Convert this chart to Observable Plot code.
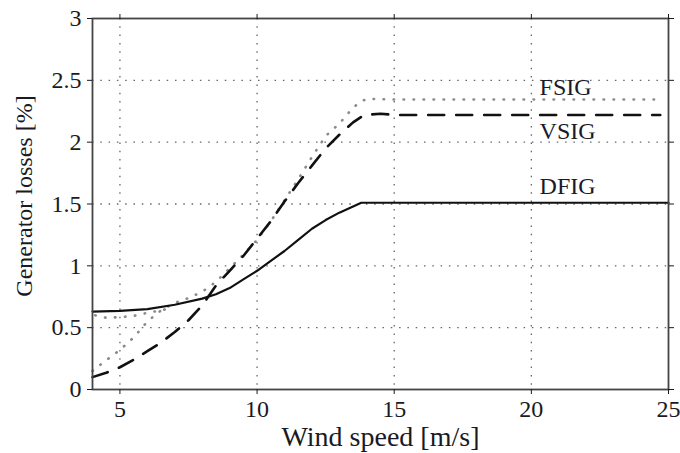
<!DOCTYPE html>
<html>
<head>
<meta charset="utf-8">
<script src="https://cdn.jsdelivr.net/npm/d3@7"></script>
<script src="https://cdn.jsdelivr.net/npm/@observablehq/plot@0.6"></script>
<style>
  html, body { margin: 0; padding: 0; background: #fff; }
</style>
</head>
<body>
<div id="chart"></div>
<script>
// ---- data ----
const dfigWind = [4, 5, 6, 7, 8, 8.5, 9, 9.5, 10, 10.5, 11, 11.5, 12, 12.5, 13, 13.5, 13.8, 14, 15, 20, 25];
const dfigLoss = [0.63, 0.635, 0.65, 0.685, 0.735, 0.77, 0.82, 0.89, 0.96, 1.04, 1.12, 1.21, 1.30, 1.37, 1.43, 1.48, 1.51, 1.51, 1.51, 1.51, 1.51];

const vsigWind = [4, 4.5, 5, 5.5, 6, 6.5, 7, 7.5, 8, 8.5, 9, 9.5, 10, 10.5, 11, 11.5, 12, 12.5, 13, 13.5, 13.9, 14.5, 15, 20, 24.7];
const vsigLoss = [0.10, 0.135, 0.18, 0.24, 0.31, 0.38, 0.465, 0.56, 0.68, 0.84, 0.96, 1.08, 1.22, 1.36, 1.52, 1.67, 1.81, 1.95, 2.06, 2.16, 2.22, 2.23, 2.22, 2.22, 2.22];

const fsigWind = [4, 4.4, 5, 5.5, 6, 6.5, 7, 7.5, 8, 8.5, 9, 9.5, 10, 10.5, 11, 11.5, 12, 12.5, 13, 13.5, 13.8, 14, 15, 20, 24.7];
const fsigLoss = [0.15, 0.22, 0.32, 0.42, 0.55, 0.64, 0.70, 0.74, 0.79, 0.87, 0.98, 1.09, 1.21, 1.36, 1.53, 1.70, 1.88, 2.05, 2.15, 2.28, 2.33, 2.35, 2.345, 2.345, 2.345];

const fsigAltWind = [4.1, 4.5, 5, 5.5, 6, 6.5, 6.9];
const fsigAltLoss = [0.60, 0.58, 0.585, 0.595, 0.62, 0.64, 0.66];

const seriesNames = ["FSIG", "VSIG", "DFIG"];
const labelWind = [20.3, 20.3, 20.3];
const labelLoss = [2.44, 2.09, 1.64];

const xTicks = [5, 10, 15, 20, 25];
const yTicks = [0, 0.5, 1, 1.5, 2, 2.5, 3];
const xGrid = [5, 10, 15, 20];
const yGrid = [0.5, 1, 1.5, 2, 2.5];

const rows = (xs, ys) => xs.map((x, i) => ({x, y: ys[i]}));
const dfig = rows(dfigWind, dfigLoss);
const vsig = rows(vsigWind, vsigLoss);
const fsig = rows(fsigWind, fsigLoss);
const fsigAlt = rows(fsigAltWind, fsigAltLoss);
const labels = seriesNames.map((name, i) => ({name, x: labelWind[i], y: labelLoss[i]}));

const font = "'Liberation Serif', 'Times New Roman', serif";

const chart = Plot.plot({
  width: 680,
  height: 453,
  marginLeft: 92,
  marginRight: 12,
  marginTop: 18,
  marginBottom: 64,
  style: {fontFamily: font, background: "#fff", color: "#1a1a22"},
  x: {domain: [4, 25]},
  y: {domain: [0, 3]},
  marks: [
    Plot.gridX(xGrid, {stroke: "#666", strokeOpacity: 1, strokeWidth: 1.3, strokeDasharray: "1.5,6.8"}),
    Plot.gridY(yGrid, {stroke: "#666", strokeOpacity: 1, strokeWidth: 1.3, strokeDasharray: "1.5,6.8"}),
    Plot.line(fsig, {x: "x", y: "y", stroke: "#8a8a8a", strokeWidth: 2.6, strokeDasharray: "0.5,9.5", strokeLinecap: "round"}),
    Plot.line(fsigAlt, {x: "x", y: "y", stroke: "#8a8a8a", strokeWidth: 2.6, strokeDasharray: "0.5,9.5", strokeLinecap: "round"}),
    Plot.line(vsig, {x: "x", y: "y", stroke: "#111", strokeWidth: 2.6, strokeDasharray: "16,12"}),
    Plot.line(dfig, {x: "x", y: "y", stroke: "#111", strokeWidth: 2.2}),
    Plot.text(labels, {x: "x", y: "y", text: "name", textAnchor: "start", fontSize: 24, fill: "#1a1a2a"}),
    Plot.frame({stroke: "#444", strokeWidth: 1.8}),
    Plot.axisX(xTicks, {anchor: "bottom", tickSize: 5, tickPadding: 5, fontSize: 24,
      label: "Wind speed [m/s]", labelAnchor: "center", labelOffset: 56, labelArrow: "none"}),
    Plot.axisX(xTicks, {anchor: "top", tickSize: 5, tickFormat: () => "", label: null}),
    Plot.axisY(yTicks, {anchor: "left", tickSize: 5, tickPadding: 6, fontSize: 24, tickFormat: d => String(d),
      label: "Generator losses [%]", labelAnchor: "center", labelOffset: 78, labelArrow: "none"}),
    Plot.axisY(yTicks, {anchor: "right", tickSize: 5, tickFormat: () => "", label: null})
  ]
});

// axis title sizes as in the reference
const setLabel = (sel, size, dx) => chart.querySelectorAll(sel).forEach(g => {
  g.setAttribute("font-size", size);
  g.querySelectorAll("text").forEach(t => {
    t.setAttribute("font-size", size);
    if (dx) t.setAttribute("dx", dx);
  });
});
setLabel('[aria-label="x-axis label"]', 28, 0);
setLabel('[aria-label="y-axis label"]', 24, 8);
document.getElementById("chart").appendChild(chart);
</script>
</body>
</html>
